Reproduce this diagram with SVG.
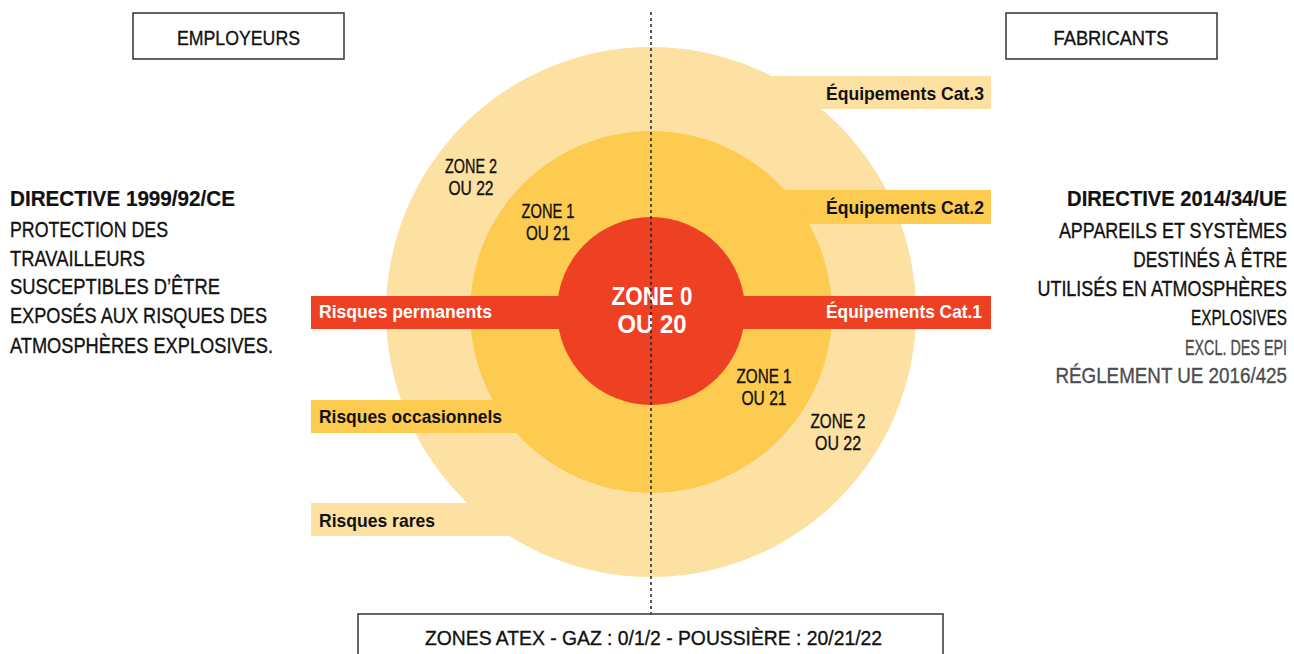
<svg xmlns="http://www.w3.org/2000/svg" width="1294" height="654" viewBox="0 0 1294 654">
<style>
text{font-family:"Liberation Sans Narrow","Liberation Sans",Arial,sans-serif}
.t{font-size:22px;fill:#111;stroke:#111;stroke-width:0.35}
.b{font-weight:bold;stroke-width:0.2}
.g{fill:#4d4d4d;stroke:#4d4d4d}
.r{text-anchor:end}
.lbl{font-size:19px;font-weight:bold}
.z{font-size:19.5px;fill:#111;stroke:#111;stroke-width:0.35;text-anchor:middle}
.hd{font-size:21px;fill:#111;stroke:#111;stroke-width:0.35;text-anchor:middle}
.box{fill:#fff;stroke:#333;stroke-width:1.5}
.c3{fill:#fde1a2}
.c2{fill:#fdcb4f}
.c1{fill:#ee4124}
</style>
<rect width="1294" height="654" fill="#fff"/>
<g id="zone2">
<rect class="c3" x="311" y="503" width="340" height="33"/>
<rect class="c3" x="651" y="76" width="340" height="33"/>
<circle class="c3" cx="651" cy="312" r="265"/>
</g>
<g id="zone1">
<rect class="c2" x="311" y="400" width="340" height="33"/>
<rect class="c2" x="651" y="190" width="340" height="34"/>
<circle class="c2" cx="651" cy="312" r="181"/>
</g>
<g id="zone0">
<rect class="c1" x="311" y="296" width="680" height="33"/>
<circle class="c1" cx="651" cy="311" r="94"/>
</g>
<g id="labels">
<text class="lbl" x="319" y="318" fill="#fff" textLength="173" lengthAdjust="spacingAndGlyphs">Risques permanents</text>
<text class="lbl" x="319" y="423" fill="#111" textLength="183" lengthAdjust="spacingAndGlyphs">Risques occasionnels</text>
<text class="lbl" x="319" y="527" fill="#111" textLength="116" lengthAdjust="spacingAndGlyphs">Risques rares</text>
<text class="lbl" x="826" y="100" fill="#111" textLength="158" lengthAdjust="spacingAndGlyphs">Équipements Cat.3</text>
<text class="lbl" x="826" y="214" fill="#111" textLength="158" lengthAdjust="spacingAndGlyphs">Équipements Cat.2</text>
<text class="lbl" x="826" y="318" fill="#fff" textLength="156" lengthAdjust="spacingAndGlyphs">Équipements Cat.1</text>
<text x="652" y="305" font-size="26" font-weight="bold" fill="#fff" text-anchor="middle" textLength="81" lengthAdjust="spacingAndGlyphs">ZONE 0</text>
<text x="652" y="333" font-size="26" font-weight="bold" fill="#fff" text-anchor="middle" textLength="69" lengthAdjust="spacingAndGlyphs">OU 20</text>
<text class="z" x="471" y="173" textLength="52" lengthAdjust="spacingAndGlyphs">ZONE 2</text>
<text class="z" x="471" y="195" textLength="45" lengthAdjust="spacingAndGlyphs">OU 22</text>
<text class="z" x="548" y="218" textLength="53" lengthAdjust="spacingAndGlyphs">ZONE 1</text>
<text class="z" x="548" y="240" textLength="44" lengthAdjust="spacingAndGlyphs">OU 21</text>
<text class="z" x="764" y="383" textLength="55" lengthAdjust="spacingAndGlyphs">ZONE 1</text>
<text class="z" x="764" y="405" textLength="45" lengthAdjust="spacingAndGlyphs">OU 21</text>
<text class="z" x="838" y="428" textLength="55" lengthAdjust="spacingAndGlyphs">ZONE 2</text>
<text class="z" x="838" y="450" textLength="46" lengthAdjust="spacingAndGlyphs">OU 22</text>
</g>
<g id="connectors">
<line x1="651" y1="12" x2="651" y2="614" stroke="#222" stroke-width="1.5" stroke-dasharray="3,3"/>
</g>
<g id="employeurs">
<rect class="box" x="133" y="13" width="211" height="46"/>
<text class="hd" x="238.5" y="45" textLength="123" lengthAdjust="spacingAndGlyphs">EMPLOYEURS</text>
</g>
<g id="fabricants">
<rect class="box" x="1006" y="13" width="211" height="46"/>
<text class="hd" x="1111" y="45" textLength="115" lengthAdjust="spacingAndGlyphs">FABRICANTS</text>
</g>
<g id="zones-atex">
<rect class="box" x="358" y="614" width="585" height="50"/>
<text class="hd" x="653.5" y="645" textLength="457" lengthAdjust="spacingAndGlyphs">ZONES ATEX - GAZ : 0/1/2 - POUSSIÈRE : 20/21/22</text>
</g>
<g id="directive-1999">
<text class="t b" x="10" y="206" textLength="225" lengthAdjust="spacingAndGlyphs">DIRECTIVE 1999/92/CE</text>
<text class="t" x="10" y="237" textLength="158" lengthAdjust="spacingAndGlyphs">PROTECTION DES</text>
<text class="t" x="10" y="266" textLength="135" lengthAdjust="spacingAndGlyphs">TRAVAILLEURS</text>
<text class="t" x="10" y="294" textLength="210" lengthAdjust="spacingAndGlyphs">SUSCEPTIBLES D’ÊTRE</text>
<text class="t" x="10" y="323" textLength="257" lengthAdjust="spacingAndGlyphs">EXPOSÉS AUX RISQUES DES</text>
<text class="t" x="10" y="353" textLength="263" lengthAdjust="spacingAndGlyphs">ATMOSPHÈRES EXPLOSIVES.</text>
</g>
<g id="directive-2014">
<text class="t b r" transform="translate(1287 206) scale(0.918 1)">DIRECTIVE 2014/34/UE</text>
<text class="t r" transform="translate(1287 238) scale(0.814 1)">APPAREILS ET SYSTÈMES</text>
<text class="t r" transform="translate(1287 267) scale(0.787 1)">DESTINÉS À ÊTRE</text>
<text class="t r" transform="translate(1287 296) scale(0.815 1)">UTILISÉS EN ATMOSPHÈRES</text>
<text class="t r" transform="translate(1287 325) scale(0.695 1)">EXPLOSIVES</text>
<text class="t g r" transform="translate(1287 355) scale(0.652 1)">EXCL. DES EPI</text>
<text class="t g r" transform="translate(1287 383) scale(0.855 1)">RÉGLEMENT UE 2016/425</text>
</g>
</svg>
